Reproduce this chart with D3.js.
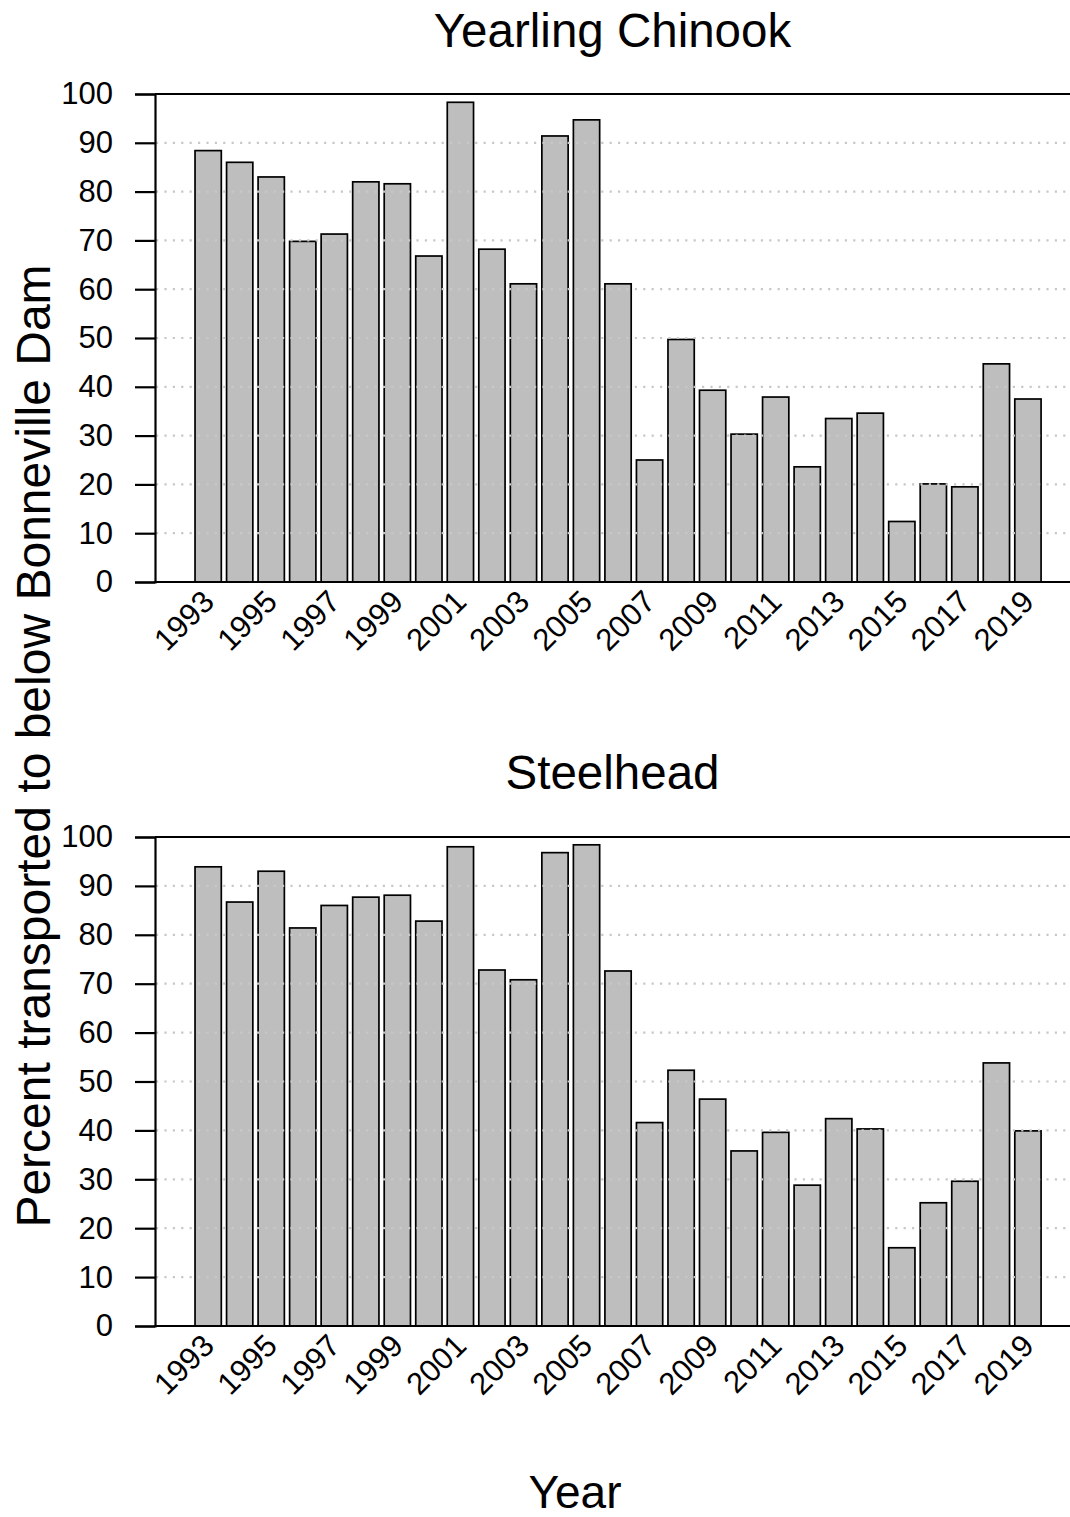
<!DOCTYPE html>
<html>
<head>
<meta charset="utf-8">
<script src="https://cdn.jsdelivr.net/npm/d3@7"></script>
<style>
  html, body { margin: 0; padding: 0; background: #fff; }
  svg { display: block; }
  text { font-family: "Liberation Sans", Arial, sans-serif; fill: #000; }
</style>
</head>
<body>
<svg id="chart" width="1070" height="1517"></svg>
<script>
// Juvenile fish transported to below Bonneville Dam, percent by year
const years = d3.range(1993, 2020);
const chinookPct = [88.4, 86.0, 83.0, 69.8, 71.3, 82.0, 81.6, 66.8, 98.3, 68.2,
                    61.1, 91.4, 94.7, 61.1, 25.0, 49.7, 39.3, 30.3, 37.9, 23.6,
                    33.5, 34.6, 12.4, 20.1, 19.5, 44.7, 37.5];
const steelheadPct = [93.9, 86.7, 93.0, 81.4, 86.0, 87.7, 88.1, 82.8, 98.0, 72.8,
                      70.8, 96.8, 98.4, 72.6, 41.6, 52.3, 46.4, 35.8, 39.6, 28.8,
                      42.4, 40.3, 16.0, 25.2, 29.6, 53.8, 39.9];
const yTicks = [0, 10, 20, 30, 40, 50, 60, 70, 80, 90, 100];
const gridTicks = [10, 20, 30, 40, 50, 60, 70, 80, 90];
const xLabelYears = years.filter(y => (y - 1993) % 2 === 0);

const panels = [
  { title: "Yearling Chinook", values: chinookPct, top: 94, bottom: 582, titleY: 47 },
  { title: "Steelhead", values: steelheadPct, top: 837, bottom: 1326, titleY: 789 }
];

const svg = d3.select("#chart");
const plotLeft = 155, plotRight = 1070;

const x = d3.scaleBand()
  .domain(years)
  .range([192.4, 1043.7])
  .paddingInner(1 / 6)
  .paddingOuter(1 / 12);

panels.forEach(p => {
  const g = svg.append("g");
  const y = d3.scaleLinear().domain([0, 100]).range([p.bottom, p.top]);

  // bars
  g.selectAll("rect.bar")
    .data(p.values)
    .join("rect")
    .attr("class", "bar")
    .attr("x", (d, i) => x(years[i]))
    .attr("width", x.bandwidth())
    .attr("y", d => y(d))
    .attr("height", d => y(0) - y(d))
    .attr("fill", "#bebebe")
    .attr("stroke", "#000")
    .attr("stroke-width", 1.7);

  // dotted reference lines, drawn over the bars
  g.selectAll("line.grid")
    .data(gridTicks)
    .join("line")
    .attr("class", "grid")
    .attr("x1", plotLeft + 1)
    .attr("x2", plotRight)
    .attr("y1", d => y(d))
    .attr("y2", d => y(d))
    .attr("stroke", "#c8c8c8")
    .attr("stroke-width", 2.2)
    .attr("stroke-dasharray", "2.2,6.2");

  // frame: top and bottom lines
  g.append("line")
    .attr("x1", plotLeft).attr("x2", plotRight)
    .attr("y1", y(100)).attr("y2", y(100))
    .attr("stroke", "#000").attr("stroke-width", 2.2);
  g.append("line")
    .attr("x1", plotLeft).attr("x2", plotRight)
    .attr("y1", y(0)).attr("y2", y(0))
    .attr("stroke", "#000").attr("stroke-width", 2.2);

  // left axis
  const yAxis = d3.axisLeft(y)
    .tickValues(yTicks)
    .tickSize(20)
    .tickPadding(22)
    .tickFormat(d3.format("d"));
  const ax = g.append("g")
    .attr("transform", `translate(${plotLeft},0)`)
    .call(yAxis);
  ax.select(".domain").attr("stroke", "#000").attr("stroke-width", 2.2);
  ax.selectAll(".tick line").attr("stroke", "#000").attr("stroke-width", 2.2);
  ax.selectAll(".tick text")
    .attr("font-size", 31)
    .attr("font-family", "Liberation Sans, Arial, sans-serif")
    .attr("fill", "#000");

  // rotated year labels
  g.selectAll("text.year")
    .data(xLabelYears)
    .join("text")
    .attr("class", "year")
    .attr("transform", d => `translate(${x(d) + x.bandwidth() / 2},${y(0) + 14}) rotate(-45)`)
    .attr("text-anchor", "end")
    .attr("dy", "0.35em")
    .attr("font-size", 31)
    .text(d => d);

  // panel title
  g.append("text")
    .attr("x", (plotLeft + plotRight) / 2)
    .attr("y", p.titleY)
    .attr("text-anchor", "middle")
    .attr("font-size", 47.5)
    .text(p.title);
});

// shared axis titles
svg.append("text")
  .attr("transform", "translate(50,746) rotate(-90)")
  .attr("text-anchor", "middle")
  .attr("font-size", 48)
  .text("Percent transported to below Bonneville Dam");

svg.append("text")
  .attr("x", 575)
  .attr("y", 1508)
  .attr("text-anchor", "middle")
  .attr("font-size", 46)
  .text("Year");
</script>
</body>
</html>
